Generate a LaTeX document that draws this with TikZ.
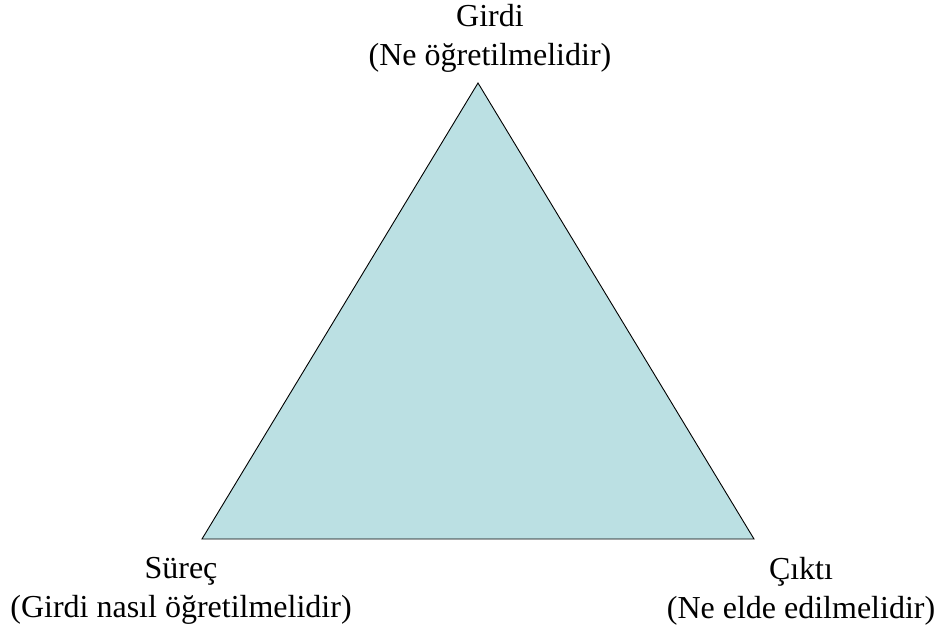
\documentclass[tikz,border=0pt]{standalone}
\usepackage{fontspec}
\setmainfont{Liberation Serif}
\usepackage{tikz}
\usetikzlibrary{calc}
\definecolor{ucgen}{HTML}{BBE0E3}
\tikzset{etiket/.style={align=center, inner sep=0pt, font=\fontsize{32}{39}\selectfont}}

\begin{document}
\begin{tikzpicture}[x=1pt, y=1pt]
        \useasboundingbox (0,0) rectangle (939,630);
        % köşeler
        \coordinate (G) at (478,547);
        \coordinate (S) at (202,91);
        \coordinate (C) at (754,91);
        % üçgen
        \path[draw, fill=ucgen, line width=0.9pt](G)--(S)--(C)--cycle;
        % etiketler
        \node[etiket](girdi) at (490,592) {Girdi\\(Ne öğretilmelidir)};
        \node[etiket](surec) at (181,39) {Süreç\\(Girdi nasıl öğretilmelidir)};
        \node[etiket](cikti) at (801,39) {Çıktı\\(Ne elde edilmelidir)};
    \end{tikzpicture}
\end{document}
